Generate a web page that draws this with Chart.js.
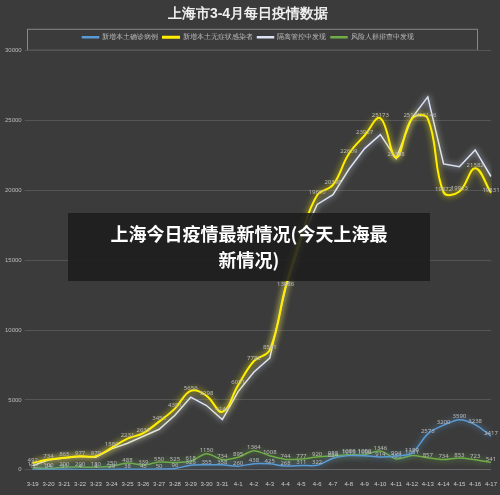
<!DOCTYPE html>
<html><head><meta charset="utf-8">
<script src="https://cdn.jsdelivr.net/npm/chart.js@4"></script>
<style>
  body{margin:0;background:#3b3b3b;font-family:"Noto Sans CJK SC","Noto Sans",sans-serif}
  #wrap{position:relative;width:500px;height:495px}
  #banner{position:absolute;left:68px;top:213px;width:362px;height:68px;background:rgba(28,28,28,0.88);color:#fff;font-weight:bold;font-size:18px;line-height:26px;text-align:center;padding-top:7px;box-sizing:border-box}
</style></head>
<body>
<div id="wrap"><canvas id="cv" width="500" height="495"></canvas>
<div id="banner">上海今日疫情最新情况(今天上海最<br>新情况)</div></div>
<script>
const days = ['3-19','3-20','3-21','3-22','3-23','3-24','3-25','3-26','3-27','3-28','3-29','3-30','3-31','4-1','4-2','4-3','4-4','4-5','4-6','4-7','4-8','4-9','4-10','4-11','4-12','4-13','4-14','4-15','4-16','4-17'];
const confirmed = [17,24,31,4,4,29,38,45,50,96,326,355,358,260,438,425,268,311,322,824,1015,1006,914,994,1189,2573,3200,3590,3238,2417];
const asymptomatic = [492,734,865,977,979,1580,2231,2631,3450,4381,5656,5298,4144,6051,7788,8581,13086,16766,19660,20398,22609,23937,25173,22348,25141,25146,19872,19923,21582,19831];
const isolation = [300,700,850,950,900,1500,1900,2400,2900,3900,5200,4600,3600,5600,7000,8000,13000,16500,19000,19700,21500,23000,24000,22300,25200,26700,21900,21700,22900,21000];
const screening = [150,100,200,200,180,250,488,339,550,525,618,1150,734,895,1364,1008,744,777,920,988,1080,1080,1346,780,1031,857,734,853,723,541];

const glow = {
  id:'glow',
  beforeDatasetDraw(c,a){const x=c.ctx;x.save();x.shadowColor=c.data.datasets[a.index].borderColor;x.shadowBlur=6;},
  afterDatasetDraw(c,a){
    const x=c.ctx;x.restore();
    const ds=c.data.datasets[a.index];
    if(!ds.labels) return;
    x.save();x.fillStyle='#bbbbbb';x.font='6px "Noto Sans"';x.textAlign='center';
    a.meta.data.forEach((p,i)=>x.fillText(ds.data[i],p.x,p.y-3));
    x.restore();
  }
};

new Chart(document.getElementById('cv'),{
  type:'line',
  data:{labels:days,datasets:[
    {label:'新增本土确诊病例',data:confirmed,borderColor:'#5b9bd5',borderWidth:1.5,tension:0.3,labels:true},
    {label:'新增本土无症状感染者',data:asymptomatic,borderColor:'#ffee00',borderWidth:2,tension:0.4,labels:true},
    {label:'隔离管控中发现',data:isolation,borderColor:'#dde3f5',borderWidth:1.5,tension:0},
    {label:'风险人群排查中发现',data:screening,borderColor:'#70ad47',borderWidth:1.5,tension:0.3,labels:true}
  ]},
  options:{
    responsive:false,animation:false,
    layout:{padding:{left:2,right:6,bottom:4}},
    elements:{point:{radius:0}},
    plugins:{
      title:{display:true,text:'上海市3-4月每日疫情数据',color:'#eeeeee',font:{size:14,weight:'bold'},padding:{top:6,bottom:6}},
      legend:{labels:{color:'#bbbbbb',font:{size:7},boxWidth:16,boxHeight:1,padding:5}},
      tooltip:{enabled:false}
    },
    scales:{
      x:{grid:{display:false},border:{color:'#666'},ticks:{color:'#cccccc',font:{size:6},maxRotation:0,autoSkip:false}},
      y:{min:0,max:30000,ticks:{stepSize:5000,color:'#bbbbbb',font:{size:6},callback:v=>String(v)},grid:{color:'#555555'},border:{display:false}}
    }
  },
  plugins:[glow,{id:'bg',beforeDraw(c){const x=c.ctx;x.save();x.fillStyle='#3b3b3b';x.fillRect(0,0,c.width,c.height);
    x.strokeStyle='#888';x.lineWidth=1;x.strokeRect(27.5,c.legend.top+0.5,450,c.legend.height-1);x.restore();}}]
});
</script>
</body></html>
